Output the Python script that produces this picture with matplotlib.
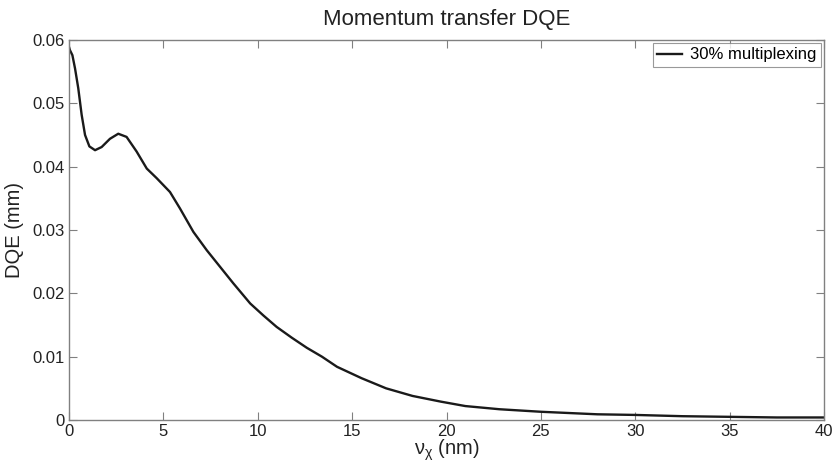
import matplotlib
matplotlib.use("Agg")
import matplotlib.pyplot as plt

# spatial frequency (nm) and DQE (mm)
nu = [0, 0.05, 0.18, 0.32, 0.49, 0.67, 0.85, 1.08, 1.38, 1.73, 2.17, 2.61,
      3.05, 3.58, 4.12, 4.64, 5.35, 5.88, 6.59, 7.3, 8.0, 8.7, 9.6, 10.3,
      11.0, 11.8, 12.6, 13.4, 14.2, 15.5, 16.8, 18.2, 19.7, 21.0, 22.8,
      25.0, 28.0, 30.0, 32.5, 35.0, 37.5, 40.0]
dqe = [0.0589, 0.0584, 0.0576, 0.0555, 0.0524, 0.0482, 0.0450, 0.0432,
       0.0426, 0.0431, 0.0444, 0.0452, 0.0447, 0.0424, 0.0397, 0.0382,
       0.0360, 0.0334, 0.0297, 0.0268, 0.0242, 0.0216, 0.0184, 0.0165,
       0.0147, 0.0130, 0.0114, 0.0100, 0.0084, 0.0066, 0.0050, 0.0038,
       0.0029, 0.0022, 0.0017, 0.0013, 0.0009, 0.0008, 0.0006, 0.0005,
       0.0004, 0.0004]
xticks = [0, 5, 10, 15, 20, 25, 30, 35, 40]
yticks = [0, 0.01, 0.02, 0.03, 0.04, 0.05, 0.06]

plt.rcParams['font.family'] = ['Liberation Sans', 'DejaVu Sans']
plt.rcParams['mathtext.default'] = 'regular'

fig = plt.figure(figsize=(8.34, 4.75), dpi=100)
ax = fig.add_axes([69 / 834, 55 / 475, 755 / 834, 380 / 475])

ax.plot(nu, dqe, color='#1a1a1a', lw=1.7, label='30% multiplexing',
        solid_joinstyle='round')

ax.set_xlim(0, 40)
ax.set_ylim(0, 0.06)
ax.set_xticks(xticks)
ax.set_yticks(yticks)
ax.set_xticklabels([str(t) for t in xticks])
ax.set_yticklabels(['0'] + ['%.2f' % t for t in yticks[1:]])

grey = '#808080'
for s in ax.spines.values():
    s.set_color(grey)
    s.set_linewidth(1.0)
ax.tick_params(direction='in', length=6, width=0.8, color=grey,
               labelsize=12, labelcolor='#222222', top=True, right=True, pad=3)

ax.set_title('Momentum transfer DQE', fontsize=16, color='#222222', pad=11)
ax.set_xlabel(r'$\nu_{\chi}$ (nm)', fontsize=14.5, color='#222222', labelpad=-1)
ax.set_ylabel('DQE (mm)', fontsize=14.5, color='#222222', labelpad=6)

leg = ax.legend(loc='upper right', fontsize=12, frameon=True, fancybox=False,
                handlelength=1.5, handletextpad=0.5, borderpad=0.25,
                borderaxespad=0.2)
leg.get_frame().set_edgecolor(grey)
leg.get_frame().set_linewidth(0.8)

fig.savefig('out.png', dpi=100)
